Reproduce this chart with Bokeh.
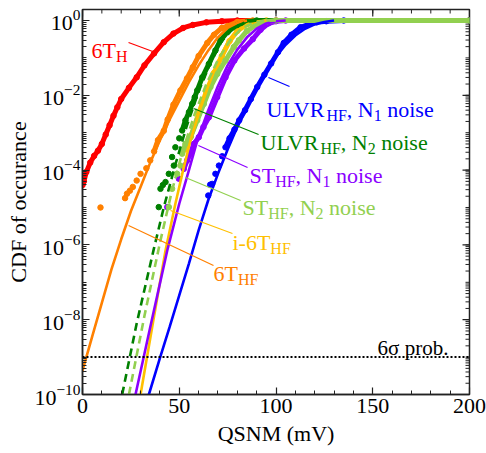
import math
from bokeh.plotting import figure
from bokeh.models import Range1d, FixedTicker, Label, Span, ColumnDataSource
from bokeh.embed import file_html
from bokeh.resources import INLINE

FONT = "Liberation Serif"

# ---------------- data: QSNM (mV) and log10(CDF) ----------------
# simulated points (dots)
t6h_x = [0, 0.7, 2, 4, 6, 8, 10, 12, 14, 16, 18, 20, 24, 28, 32, 37, 42, 47, 52, 57, 64, 72, 80, 100, 200]
t6h_lg = [-4.4, -4.3, -4.05, -3.8, -3.62, -3.48, -3.3, -3.05, -2.8, -2.55, -2.32, -2.1, -1.8, -1.52, -1.2,
          -0.88, -0.58, -0.35, -0.2, -0.12, -0.05, -0.02, 0, 0, 0]

t6hf_x = [9.3, 22, 23, 24.5, 26, 28, 30, 33, 35, 37, 39, 42, 44, 47, 50.6, 54, 57, 60, 64.5, 68, 72, 75, 80, 88, 200]
t6hf_lg = [-5.0, -4.75, -4.63, -4.55, -4.45, -4.28, -4.1, -3.95, -3.74, -3.5, -3.2, -2.95, -2.65, -2.25, -1.87,
           -1.55, -1.25, -0.95, -0.6, -0.38, -0.2, -0.15, -0.04, 0, 0]

i6t_x = [53, 56, 60, 64, 68, 72, 76, 80, 85, 90, 95, 200]
i6t_lg = [-3.45, -3.1, -2.5, -1.9, -1.4, -0.95, -0.55, -0.28, -0.1, -0.03, 0, 0]

ulvr2_x = [39.4, 40.3, 41.5, 42.9, 44.6, 46.3, 47.2, 48, 50, 51.5, 53.2, 55, 56.7, 58, 59.3, 61.9, 65.3, 68.7,
           71.3, 75, 80, 85, 90, 200]
ulvr2_lg = [-4.99, -4.5, -4.4, -4.32, -4.1, -3.65, -3.88, -3.39, -3.15, -2.94, -2.67, -2.45, -2.23, -2.05, -1.87,
            -1.52, -1.16, -0.8, -0.53, -0.3, -0.12, -0.04, 0, 0]

st2_x = [44.6, 46.3, 48.9, 50.6, 51.5, 53.2, 55.8, 59.3, 62.7, 66.1, 69.6, 73.9, 78.2, 80.8, 85, 90, 95, 100, 200]
st2_lg = [-4.99, -4.5, -4.1, -3.88, -3.56, -3.3, -3.12, -2.67, -2.23, -1.78, -1.43, -1.07, -0.71, -0.53, -0.28,
          -0.11, -0.03, 0, 0]

st1_x = [43.8, 49.8, 52.3, 54.1, 55.8, 57.5, 60.1, 62.5, 65.3, 69.6, 73.9, 78.5, 83.5, 88, 92, 96, 100, 105, 200]
st1_lg = [-4.99, -4.23, -3.97, -3.74, -3.56, -3.3, -3.12, -2.85, -2.59, -2.05, -1.52, -1.07, -0.75, -0.5, -0.25,
          -0.08, -0.02, 0, 0]

ulvr1_x = [65, 66, 67, 68.7, 70.5, 72.2, 73.9, 76, 78.5, 81, 84, 87, 90.3, 94, 97.5, 101, 104, 108, 112.7, 117,
           121, 126, 135, 200]
ulvr1_lg = [-4.68, -4.39, -4.37, -4.1, -3.88, -3.63, -3.39, -3.15, -2.92, -2.67, -2.4, -2.1, -1.78, -1.45, -1.15,
            -0.85, -0.6, -0.38, -0.18, -0.1, -0.05, -0.02, 0, 0]

# model curves (lines)
t6hf_fit_x = [0, 5, 10, 15, 20, 25, 30, 35, 40, 45, 50, 55, 60, 65, 70, 75, 80, 85]
t6hf_fit_lg = [-9.36, -8.45, -7.55, -6.65, -5.85, -5.1, -4.45, -3.8, -3.2, -2.65, -2.15, -1.65, -1.2, -0.8, -0.45,
               -0.2, -0.06, 0]

i6t_fit_x = [30, 36, 42.9, 48, 52, 55.8, 60, 65, 70, 75, 80, 85, 90, 95]
i6t_fit_lg = [-10, -8.2, -6.15, -4.9, -4.0, -3.21, -2.5, -1.75, -1.1, -0.58, -0.28, -0.1, -0.03, 0]

ulvr2_fit_x = [20.5, 28, 36.9, 42, 48, 54, 60, 66, 72, 78, 84, 90]
ulvr2_fit_lg = [-10, -8.1, -6.1, -5.0, -3.85, -2.8, -1.9, -1.15, -0.55, -0.2, -0.05, 0]

st2_fit_x = [24, 32, 40.3, 46, 52, 58, 64, 70, 76, 82, 88, 94, 100]
st2_fit_lg = [-10, -7.9, -5.88, -4.6, -3.45, -2.5, -1.7, -1.05, -0.55, -0.22, -0.07, -0.01, 0]

st1_fit_x = [27.4, 35, 43.8, 50, 55, 59.3, 65, 70, 75, 80, 85, 90, 95, 100, 105]
st1_fit_lg = [-10, -8.2, -6.15, -4.9, -4.0, -3.21, -2.4, -1.75, -1.2, -0.78, -0.45, -0.22, -0.08, -0.02, 0]

ulvr1_fit_x = [34.3, 40, 45, 50, 55, 60, 65, 70, 75, 80, 85, 90, 95, 100, 105, 110, 115, 120, 125, 130]
ulvr1_fit_lg = [-10, -9.03, -8.2, -7.35, -6.5, -5.61, -4.8, -4.1, -3.45, -2.85, -2.3, -1.8, -1.35, -0.97, -0.65,
                -0.4, -0.22, -0.1, -0.04, 0]

six_sigma_prob = 1e-9

x_major = [0, 50, 100, 150, 200]
y_major_exp = [-10, -8, -6, -4, -2, 0]

RED, ORANGE, GOLD = "#ff0000", "#ff8000", "#ffc000"
DGREEN, LGREEN, PURPLE, BLUE = "#008000", "#92d050", "#8b00ff", "#0000ff"

# annotation texts: anchor (x mV, log10 y), parts (text, is_subscript)
label_parts = [
    [("6T", 0), ("H", 1)],
    [("ULVR", 0), ("HF", 1), (", N", 0), ("1", 1), (" noise", 0)],
    [("ULVR", 0), ("HF", 1), (", N", 0), ("2", 1), (" noise", 0)],
    [("ST", 0), ("HF", 1), (", N", 0), ("1", 1), (" noise", 0)],
    [("ST", 0), ("HF", 1), (", N", 0), ("2", 1), (" noise", 0)],
    [("i-6T", 0), ("HF", 1)],
    [("6T", 0), ("HF", 1)],
]
label_x = [4.65, 95.1, 92.0, 86.3, 82.7, 77.5, 67.7]
label_lg = [-0.80, -2.38, -3.262, -4.144, -5.0, -5.936, -6.765]
label_color = [RED, BLUE, DGREEN, PURPLE, LGREEN, GOLD, ORANGE]

leader_x0 = [23.8, 96.1, 57.4, 59.9, 53.2, 45.5, 23.8]
leader_lg0 = [-0.588, -1.524, -2.353, -3.342, -4.198, -5.080, -5.481]
leader_x1 = [37.7, 107.0, 91.0, 85.3, 81.7, 77.5, 67.7]
leader_lg1 = [-0.856, -1.765, -3.048, -3.930, -4.813, -5.695, -6.551]

sigma_label_x, sigma_label_lg = 152.5, -8.77

# ---------------- figure ----------------
Y_TOP = 10 ** 0.294
p = figure(width=486, height=453, x_range=Range1d(0, 200), y_range=Range1d(1e-10, Y_TOP),
           y_axis_type="log", output_backend="svg", toolbar_location=None,
           min_border_left=82, min_border_right=17, min_border_top=9, min_border_bottom=59)
p.background_fill_color = "white"
p.border_fill_color = "white"
p.outline_line_color = "#222222"
p.outline_line_width = 1.5
p.xgrid.visible = False
p.ygrid.visible = False

x_minor = list(range(0, 201, 10))
y_minor = [k * 10.0 ** n for n in range(-10, 1) for k in range(1, 10)]
xt = FixedTicker(ticks=x_major, minor_ticks=x_minor)
yt = FixedTicker(ticks=[10.0 ** e for e in y_major_exp], minor_ticks=y_minor)

for ax, t, lab, lstand, tstand in ((p.xaxis[0], xt, "QSNM (mV)", 4, 5),
                                   (p.yaxis[0], yt, "CDF of occurance", 2, 0)):
    ax.ticker = t
    ax.axis_line_color = "#222222"
    ax.axis_line_width = 1.5
    ax.major_tick_line_color = "#222222"
    ax.minor_tick_line_color = "#222222"
    ax.major_tick_line_width = 1.2
    ax.minor_tick_line_width = 1
    ax.major_tick_in = 7
    ax.major_tick_out = 0
    ax.minor_tick_in = 4
    ax.minor_tick_out = 0
    ax.major_label_text_font = FONT
    ax.major_label_text_color = "black"
    ax.major_label_text_font_size = "22px"
    ax.major_label_standoff = lstand
    ax.axis_label = lab
    ax.axis_label_text_font = FONT
    ax.axis_label_text_font_size = "22px"
    ax.axis_label_text_font_style = "normal"
    ax.axis_label_text_color = "black"
    ax.axis_label_standoff = tstand

# mirrored inward ticks on the top and right edges (half of each dash is clipped by the frame)
p.scatter(x_major, [Y_TOP] * len(x_major), marker="dash", angle=math.pi / 2, size=14,
          line_color="#222222", line_width=1.2)
p.scatter(x_minor, [Y_TOP] * len(x_minor), marker="dash", angle=math.pi / 2, size=8,
          line_color="#222222", line_width=1)
p.scatter([200] * len(y_major_exp), [10.0 ** e for e in y_major_exp], marker="dash", size=14,
          line_color="#222222", line_width=1.2)
p.scatter([200] * len(y_minor), y_minor, marker="dash", size=8, line_color="#222222", line_width=1)


def p10(a):
    return [10.0 ** v for v in a]


dot_series = [
    (t6h_x, t6h_lg, RED, -5.0),
    (t6hf_x, t6hf_lg, ORANGE, -3.6),
    (i6t_x, i6t_lg, GOLD, -4.0),
    (ulvr1_x, ulvr1_lg, BLUE, -3.5),
    (st1_x, st1_lg, PURPLE, -4.1),
    (ulvr2_x, ulvr2_lg, DGREEN, -3.0),
    (st2_x, st2_lg, LGREEN, -3.6),
]
fit_series = [
    (t6hf_fit_x, t6hf_fit_lg, ORANGE, "solid"),
    (i6t_fit_x, i6t_fit_lg, GOLD, "solid"),
    (st1_fit_x, st1_fit_lg, PURPLE, "solid"),
    (ulvr1_fit_x, ulvr1_fit_lg, BLUE, "solid"),
    (ulvr2_fit_x, ulvr2_fit_lg, DGREEN, "8 5"),
    (st2_fit_x, st2_fit_lg, LGREEN, "8 5"),
]

for xs, lg, col, dense in dot_series:
    dx = [x for x, v in zip(xs, lg) if v >= dense]
    dy = [10.0 ** v for v in lg if v >= dense]
    p.line(dx, dy, line_color=col, line_width=5)
    p.scatter(xs, p10(lg), marker="circle", size=5.5, fill_color=col, line_color=col)

for xs, lg, col, dash in fit_series:
    p.line(xs, p10(lg), line_color=col, line_width=2.6, line_dash=dash)

p.add_layout(Span(location=six_sigma_prob, dimension="width", line_color="black", line_width=2,
                  line_dash="2 2"))

src = ColumnDataSource(dict(x0=leader_x0, y0=p10(leader_lg0), x1=leader_x1, y1=p10(leader_lg1),
                            c=label_color))
p.segment("x0", "y0", "x1", "y1", source=src, line_color="c", line_width=1.2)

# Times-like advance widths (per 1000 em) to place subscripts after the main text
W = {' ': 250, ',': 250, '-': 333, '.': 250, 'H': 722, 'F': 556, 'L': 611, 'N': 722, 'R': 667, 'S': 556,
     'T': 611, 'U': 722, 'V': 722, 'i': 278, 'n': 500, 'o': 500, 's': 389, 'e': 444}
MAIN, SUB = 22, 16


def text_width(s, size):
    return sum(W.get(ch, 500) for ch in s) * size / 1000.0


for parts, x, lg, col in zip(label_parts, label_x, label_lg, label_color):
    off = 0.0
    for txt, sub in parts:
        size = SUB if sub else MAIN
        stripped = txt.lstrip(" ")
        off += text_width(txt[:len(txt) - len(stripped)], size)
        p.add_layout(Label(x=x, y=10.0 ** lg, x_offset=off, y_offset=-6 if sub else 0, text=stripped,
                           text_font=FONT, text_font_size=f"{size}px", text_color=col,
                           text_align="left", text_baseline="alphabetic"))
        off += text_width(stripped, size)

p.add_layout(Label(x=sigma_label_x, y=10.0 ** sigma_label_lg, text="6σ prob.", text_font=FONT,
                   text_font_size="21px", text_color="black", text_align="left",
                   text_baseline="alphabetic"))

open("out.html", "w").write(file_html(p, INLINE))
